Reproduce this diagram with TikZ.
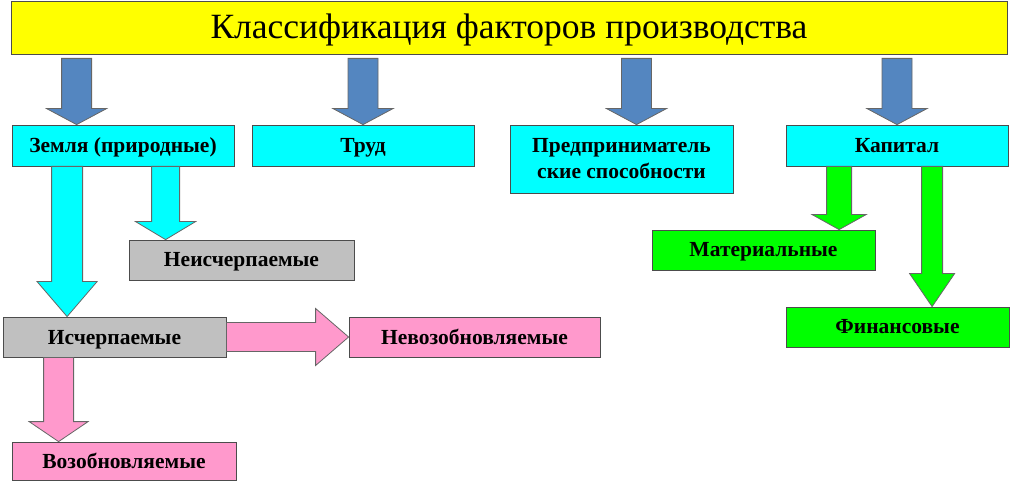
\documentclass[tikz,border=0pt]{standalone}
\usepackage{fontspec}
\setmainfont{Liberation Serif}
\usetikzlibrary{calc}

\definecolor{titleyellow}{RGB}{255,255,0}
\definecolor{boxcyan}{RGB}{0,255,255}
\definecolor{boxgray}{RGB}{192,192,192}
\definecolor{boxpink}{RGB}{255,153,204}
\definecolor{boxgreen}{RGB}{0,255,0}
\definecolor{arrblue}{RGB}{84,134,192}

\newcommand{\blockarrow}[6]{%
  \coordinate (ba) at ($(#3)!#6!(#2)$);
  \filldraw[#1] ($(#2)!#4!90:(#3)$) -- ($(ba)!#4!90:(#3)$) -- ($(ba)!#5!90:(#3)$) -- (#3)
    -- ($(ba)!#5!-90:(#3)$) -- ($(ba)!#4!-90:(#3)$) -- ($(#2)!#4!-90:(#3)$) -- cycle;}

\begin{document}
\begin{tikzpicture}[x=1pt,y=-1pt,
  box/.style={draw=black!70,line width=0.8pt,inner sep=0pt,minimum width=222pt,minimum height=41pt,
    align=center,text height=14pt,text depth=0pt,font=\fontsize{21.5}{26}\selectfont\bfseries},
  arr/.style={draw=black!60,line width=0.8pt,fill=#1}]
  \useasboundingbox (0,0) rectangle (1010,481);

  \node[box,fill=titleyellow,minimum width=996pt,minimum height=53pt,text height=23pt,font=\fontsize{35.5}{40}\selectfont] (title) at (509,27.5) {Классификация факторов производства};

  \node[box,fill=boxcyan] (zemlya) at (123,145.5) {Земля (природные)};
  \node[box,fill=boxcyan] (trud) at (363,145.5) {Труд};
  \node[box,fill=boxcyan,minimum width=223pt,minimum height=68pt,text height=,text depth=] (predpr) at (621.5,159) {Предприниматель\\ские способности};
  \node[box,fill=boxcyan] (kapital) at (897,145.5) {Капитал};

  \node[box,fill=boxgray,minimum width=225pt,minimum height=40pt] (neisch) at (241.5,260) {Неисчерпаемые};
  \node[box,fill=boxgray,minimum width=223pt,minimum height=40pt] (isch) at (114.5,337) {Исчерпаемые};
  \node[box,fill=boxpink,minimum width=251pt,minimum height=40pt] (nevoz) at (474.5,337) {Невозобновляемые};
  \node[box,fill=boxpink,minimum width=224pt,minimum height=38pt] (voz) at (124,461) {Возобновляемые};
  \node[box,fill=boxgreen,minimum width=223pt,minimum height=40pt] (mater) at (763.5,250) {Материальные};
  \node[box,fill=boxgreen,minimum width=223pt,minimum height=40pt] (finans) at (897.5,327) {Финансовые};

  \coordinate (b1) at ($(zemlya.north west)+(65,0)$);
  \coordinate (b2) at (trud.north);
  \coordinate (b3) at ($(predpr.north)+(15,0)$);
  \coordinate (b4) at (kapital.north);
  \foreach \t in {b1,b2,b3,b4} {
    \coordinate (\t-s) at ($(title.south -| \t)+(0,4)$);
    \blockarrow{arr=arrblue}{\t-s}{\t}{15pt}{30pt}{16pt}
  }

  \coordinate (c1) at ($(zemlya.south west)+(55.5,0)$);
  \coordinate (c2) at ($(zemlya.south west)+(154,0)$);
  \blockarrow{arr=boxcyan}{c1}{c1 |- isch.north}{15.5pt}{30pt}{35pt}
  \blockarrow{arr=boxcyan}{c2}{c2 |- neisch.north}{14pt}{30pt}{18pt}

  \coordinate (p1) at ($(isch.south west)+(56,0)$);
  \blockarrow{arr=boxpink}{p1}{p1 |- voz.north}{15pt}{29.5pt}{20pt}
  \blockarrow{arr=boxpink}{isch.east}{nevoz.west}{14.5pt}{28.5pt}{33pt}

  \coordinate (g1) at ($(kapital.south west)+(53.5,0)$);
  \coordinate (g2) at ($(kapital.south west)+(146.5,0)$);
  \blockarrow{arr=boxgreen}{g1}{g1 |- mater.north}{12.5pt}{27pt}{15pt}
  \blockarrow{arr=boxgreen}{g2}{g2 |- finans.north}{10.5pt}{22.5pt}{33pt}
\end{tikzpicture}
\end{document}
